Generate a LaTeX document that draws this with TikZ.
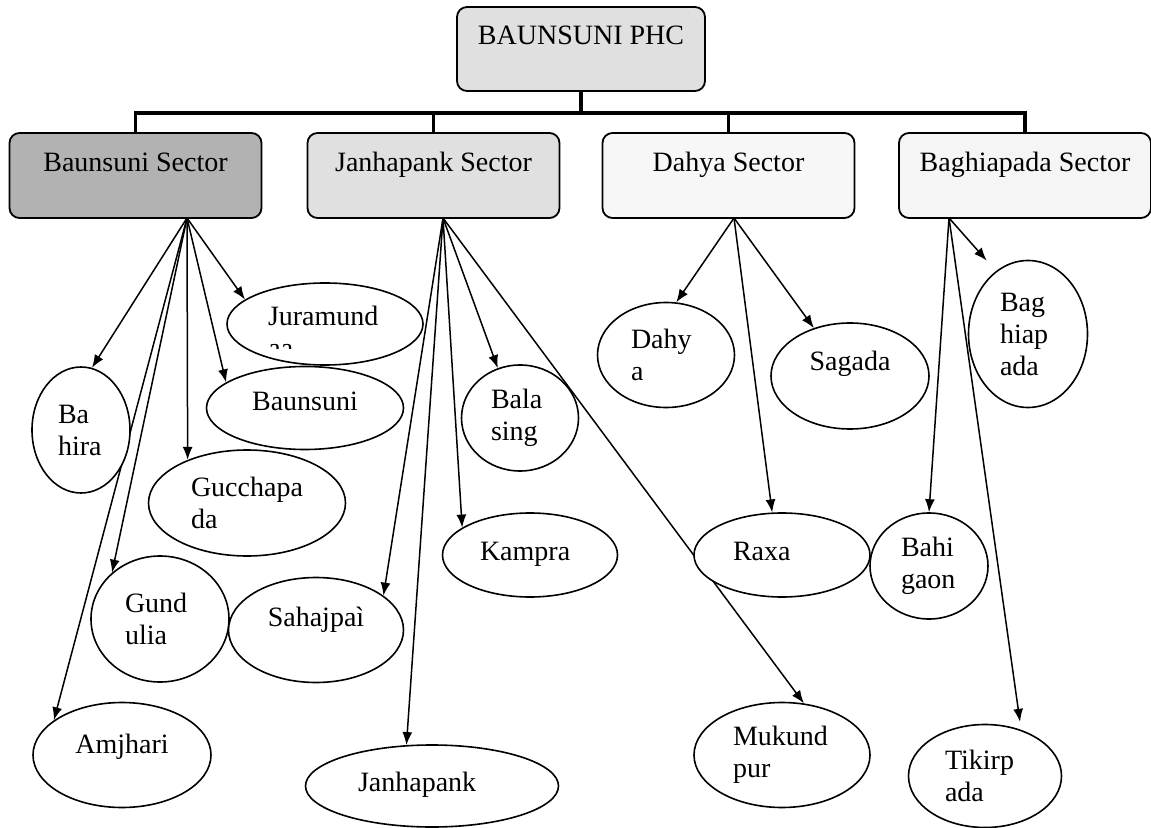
\documentclass[tikz,border=0pt]{standalone}
\usepackage{fontspec}
\setmainfont{Liberation Serif}
\usetikzlibrary{shapes.geometric,arrows.meta,backgrounds}

\begin{document}
\begin{tikzpicture}[x=0.5pt,y=-0.5pt,
  sector/.style={draw,line width=0.9pt,rounded corners=5pt,minimum width=126pt,minimum height=42.5pt,text height=10pt,text depth=13.5pt},
  village/.style 2 args={draw,ellipse,fill=white,line width=0.8pt,inner sep=0pt,align=left,minimum width=#1pt,minimum height=#2pt},
  link/.style={-{Latex[length=6.5pt,width=5pt]},line width=0.75pt},
  bus/.style={line width=1.8pt}]
\fontsize{14}{16}\selectfont
\useasboundingbox (0,0) rectangle (1151,828);

\node[sector,fill=black!12,minimum width=124pt,minimum height=42pt,text depth=14.7pt] (phc) at (581,49) {BAUNSUNI PHC};

\node[sector,fill=black!30] (bs) at (135.5,175.5) {Baunsuni Sector};
\node[sector,fill=black!12] (js) at (433.5,175.5) {Janhapank Sector};
\node[sector,fill=black!3] (ds) at (728.5,175.5) {Dahya Sector};
\node[sector,fill=black!4] (gs) at (1025,175.5) {Baghiapada Sector};

\coordinate (bus) at (581,113);
\draw[bus] (phc.south) -- (bus);
\draw[bus] (bs.north) |- (bus) -| (gs.north);
\draw[bus] (js.north) -- (js.north |- bus);
\draw[bus] (ds.north) -- (ds.north |- bus);

% villages under each sector
\node[village={49}{63},text width=23pt] (bahira) at (81,430) {Ba\\hira};
\node[village={98}{41},text width=57pt,text height=10pt,text depth=8pt] (juramund) at (325,324) {Juramund};
\node[village={98.5}{41.5},text height=10pt,text depth=7pt] (baunsuni) at (305,408) {Baunsuni};
\node[village={98.5}{53},text width=56pt] (guccha) at (247,503) {Gucchapa\\da};
\node[village={69}{63},text width=35pt] (gundulia) at (160,619) {Gund\\ulia};
\node[village={87.5}{52.5},text height=10pt,text depth=14pt] (sahajpai) at (316,630) {Sahajpaì};
\node[village={89}{52.5},text height=10pt,text depth=12pt] (amjhari) at (122,755) {Amjhari};

\node[village={126.5}{41},text width=74pt,text height=10pt,text depth=5pt] (janhapank) at (432,786) {Janhapank};
\node[village={58.5}{53},text width=29pt] (balasing) at (520,418) {Bala\\sing};
\node[village={87.5}{42},text width=50pt,text height=10pt,text depth=5pt] (kampra) at (530,555) {Kampra};

\node[village={68.5}{52.5},text width=35pt] (dahya) at (666,355) {Dahy\\a};
\node[village={79}{53},text height=10pt,text depth=15pt] (sagada) at (850,376) {Sagada};
\node[village={88}{42},text width=49pt,text height=10pt,text depth=5pt] (raxa) at (782,555) {Raxa};
\node[village={88}{52.5},text width=49pt] (mukund) at (782,755) {Mukund\\pur};

\node[village={59}{53},text width=28pt] (bahigaon) at (929,566) {Bahi\\gaon};
\node[village={59.5}{73.5},text width=28pt] (baghia) at (1028,334) {Bag\\hiap\\ada};
\node[village={76.5}{51.5},text width=40pt] (tikir) at (985,776) {Tikirp\\ada};

\begin{scope}
\clip (255,330) rectangle (300,349);
\node[anchor=base west,inner sep=0pt] (juratail) at (268,358) {aa};
\end{scope}

\coordinate (bsfoot) at (187,218);
\coordinate (jsfoot) at (443,218);
\coordinate (dsfoot) at (734,218);
\coordinate (gsfoot) at (949,218);

\begin{scope}[on background layer]
\draw[link] (bsfoot) -- (bahira.80);
\draw[link] (bsfoot) -- (amjhari.153);
\draw[link] (bsfoot) -- (gundulia.136);
\draw[link] (bsfoot) -- (guccha.144);
\draw[link] (bsfoot) -- (baunsuni.162);
\draw[link] (bsfoot) -- (juramund.163);

\draw[link] (jsfoot) -- (janhapank.122);
\draw[link] (jsfoot) -- (sahajpai.27);
\draw[link] (jsfoot) -- (kampra.158);
\draw[link] (jsfoot) -- (balasing.114);
\draw[link] (jsfoot) -- (mukund.67);

\draw[link] (dsfoot) -- (dahya.79);
\draw[link] (dsfoot) -- (raxa.103);
\draw[link] (dsfoot) -- (sagada.127);

\draw[link,shorten >=7pt] (gsfoot) -- (baghia.117);
\draw[link] (gsfoot) -- (bahigaon.north);
\draw[link,shorten >=4pt] (gsfoot) -- (tikir.52);
\end{scope}
\end{tikzpicture}
\end{document}
